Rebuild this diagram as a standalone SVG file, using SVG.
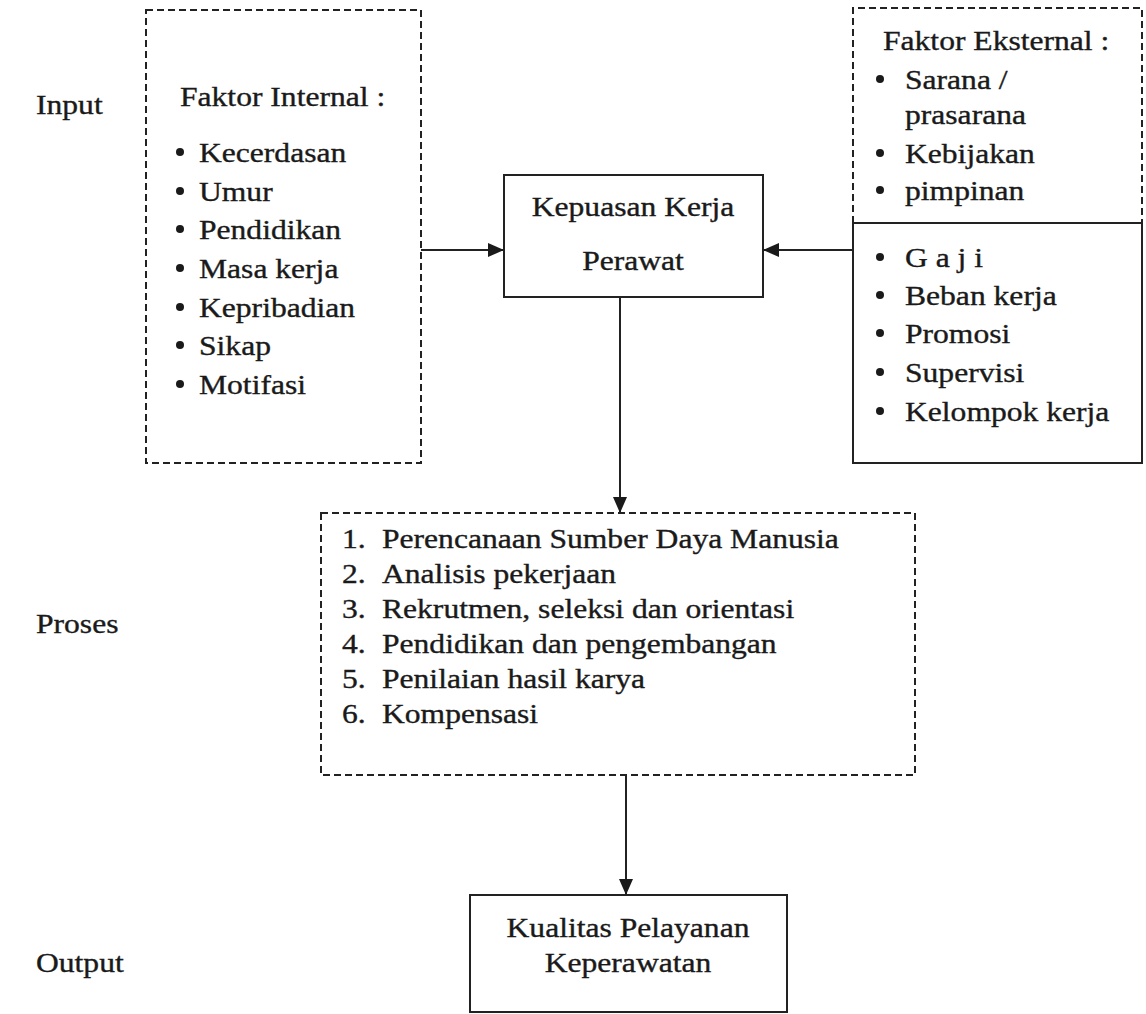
<svg xmlns="http://www.w3.org/2000/svg" width="1146" height="1014" viewBox="0 0 1146 1014">
  <style>
    text { font-family: "Liberation Serif", "Times New Roman", serif; font-size: 27px; fill: #1a1a1a; stroke: #1a1a1a; stroke-width: 0.35px; }
    .dash { fill: none; stroke: #222; stroke-width: 2; stroke-dasharray: 7 4; }
    .solid { fill: none; stroke: #222; stroke-width: 2; }
    .conn { fill: none; stroke: #222; stroke-width: 2; }
    .dot { fill: #1a1a1a; }
    .mid { text-anchor: middle; }
  </style>
  <defs>
    <marker id="arr" markerUnits="userSpaceOnUse" markerWidth="16" markerHeight="14" refX="16" refY="7" orient="auto">
      <path d="M0,0 L16,7 L0,14 Z" fill="#1a1a1a"/>
    </marker>
  </defs>
  <rect width="1146" height="1014" fill="#ffffff"/>

  <g id="labels">
    <g transform="translate(36,0) scale(1.17,1)"><text x="0" y="114">Input</text></g>
    <g transform="translate(36,0) scale(1.17,1)"><text x="0" y="633">Proses</text></g>
    <g transform="translate(36,0) scale(1.17,1)"><text x="0" y="972">Output</text></g>
  </g>

  <g id="faktor-internal">
    <rect class="dash" x="146" y="10" width="275" height="453"/>
    <g transform="translate(180,0) scale(1.17,1)"><text x="0" y="106">Faktor Internal :</text></g>
    <circle class="dot" cx="180" cy="152" r="4"/>
    <circle class="dot" cx="180" cy="191" r="4"/>
    <circle class="dot" cx="180" cy="229" r="4"/>
    <circle class="dot" cx="180" cy="268" r="4"/>
    <circle class="dot" cx="180" cy="307" r="4"/>
    <circle class="dot" cx="180" cy="345" r="4"/>
    <circle class="dot" cx="180" cy="384" r="4"/>
    <g transform="translate(199,0) scale(1.17,1)">
      <text x="0" y="162">Kecerdasan</text>
      <text x="0" y="201">Umur</text>
      <text x="0" y="239">Pendidikan</text>
      <text x="0" y="278">Masa kerja</text>
      <text x="0" y="317">Kepribadian</text>
      <text x="0" y="355">Sikap</text>
      <text x="0" y="394">Motifasi</text>
    </g>
  </g>

  <g id="faktor-eksternal">
    <path class="dash" d="M853,223 L853,8 L1142,8 L1142,223"/>
    <g transform="translate(883,0) scale(1.17,1)"><text x="0" y="50">Faktor Eksternal :</text></g>
    <circle class="dot" cx="880" cy="79" r="4"/>
    <circle class="dot" cx="880" cy="153" r="4"/>
    <circle class="dot" cx="880" cy="190" r="4"/>
    <g transform="translate(905,0) scale(1.17,1)">
      <text x="0" y="89">Sarana /</text>
      <text x="0" y="124">prasarana</text>
      <text x="0" y="163">Kebijakan</text>
      <text x="0" y="200">pimpinan</text>
    </g>
  </g>

  <g id="faktor-lain">
    <rect class="solid" x="853" y="223" width="289" height="240"/>
    <circle class="dot" cx="880" cy="257" r="4"/>
    <circle class="dot" cx="880" cy="295" r="4"/>
    <circle class="dot" cx="880" cy="333" r="4"/>
    <circle class="dot" cx="880" cy="372" r="4"/>
    <circle class="dot" cx="880" cy="411" r="4"/>
    <g transform="translate(905,0) scale(1.17,1)">
      <text x="0" y="267" xml:space="preserve">G a j i</text>
      <text x="0" y="305">Beban kerja</text>
      <text x="0" y="343">Promosi</text>
      <text x="0" y="382">Supervisi</text>
      <text x="0" y="421">Kelompok kerja</text>
    </g>
  </g>

  <g id="kepuasan-kerja">
    <rect class="solid" x="504" y="175" width="259" height="122"/>
    <g transform="translate(633,0) scale(1.17,1)">
      <text class="mid" x="0" y="216">Kepuasan Kerja</text>
      <text class="mid" x="0" y="270">Perawat</text>
    </g>
  </g>

  <g id="proses">
    <rect class="dash" x="321" y="513" width="594" height="262"/>
    <g transform="translate(342,0) scale(1.17,1)">
      <text x="0" y="548">1.</text>
      <text x="0" y="583">2.</text>
      <text x="0" y="618">3.</text>
      <text x="0" y="653">4.</text>
      <text x="0" y="688">5.</text>
      <text x="0" y="723">6.</text>
    </g>
    <g transform="translate(382,0) scale(1.17,1)">
      <text x="0" y="548">Perencanaan Sumber Daya Manusia</text>
      <text x="0" y="583">Analisis pekerjaan</text>
      <text x="0" y="618">Rekrutmen, seleksi dan orientasi</text>
      <text x="0" y="653">Pendidikan dan pengembangan</text>
      <text x="0" y="688">Penilaian hasil karya</text>
      <text x="0" y="723">Kompensasi</text>
    </g>
  </g>

  <g id="kualitas-pelayanan">
    <rect class="solid" x="470" y="895" width="317" height="117"/>
    <g transform="translate(628,0) scale(1.17,1)">
      <text class="mid" x="0" y="937">Kualitas Pelayanan</text>
      <text class="mid" x="0" y="972">Keperawatan</text>
    </g>
  </g>

  <g id="connectors">
    <line class="conn" x1="421" y1="250" x2="504" y2="250" marker-end="url(#arr)"/>
    <line class="conn" x1="853" y1="250" x2="763" y2="250" marker-end="url(#arr)"/>
    <line class="conn" x1="620" y1="297" x2="620" y2="513" marker-end="url(#arr)"/>
    <line class="conn" x1="626" y1="775" x2="626" y2="895" marker-end="url(#arr)"/>
  </g>
</svg>
